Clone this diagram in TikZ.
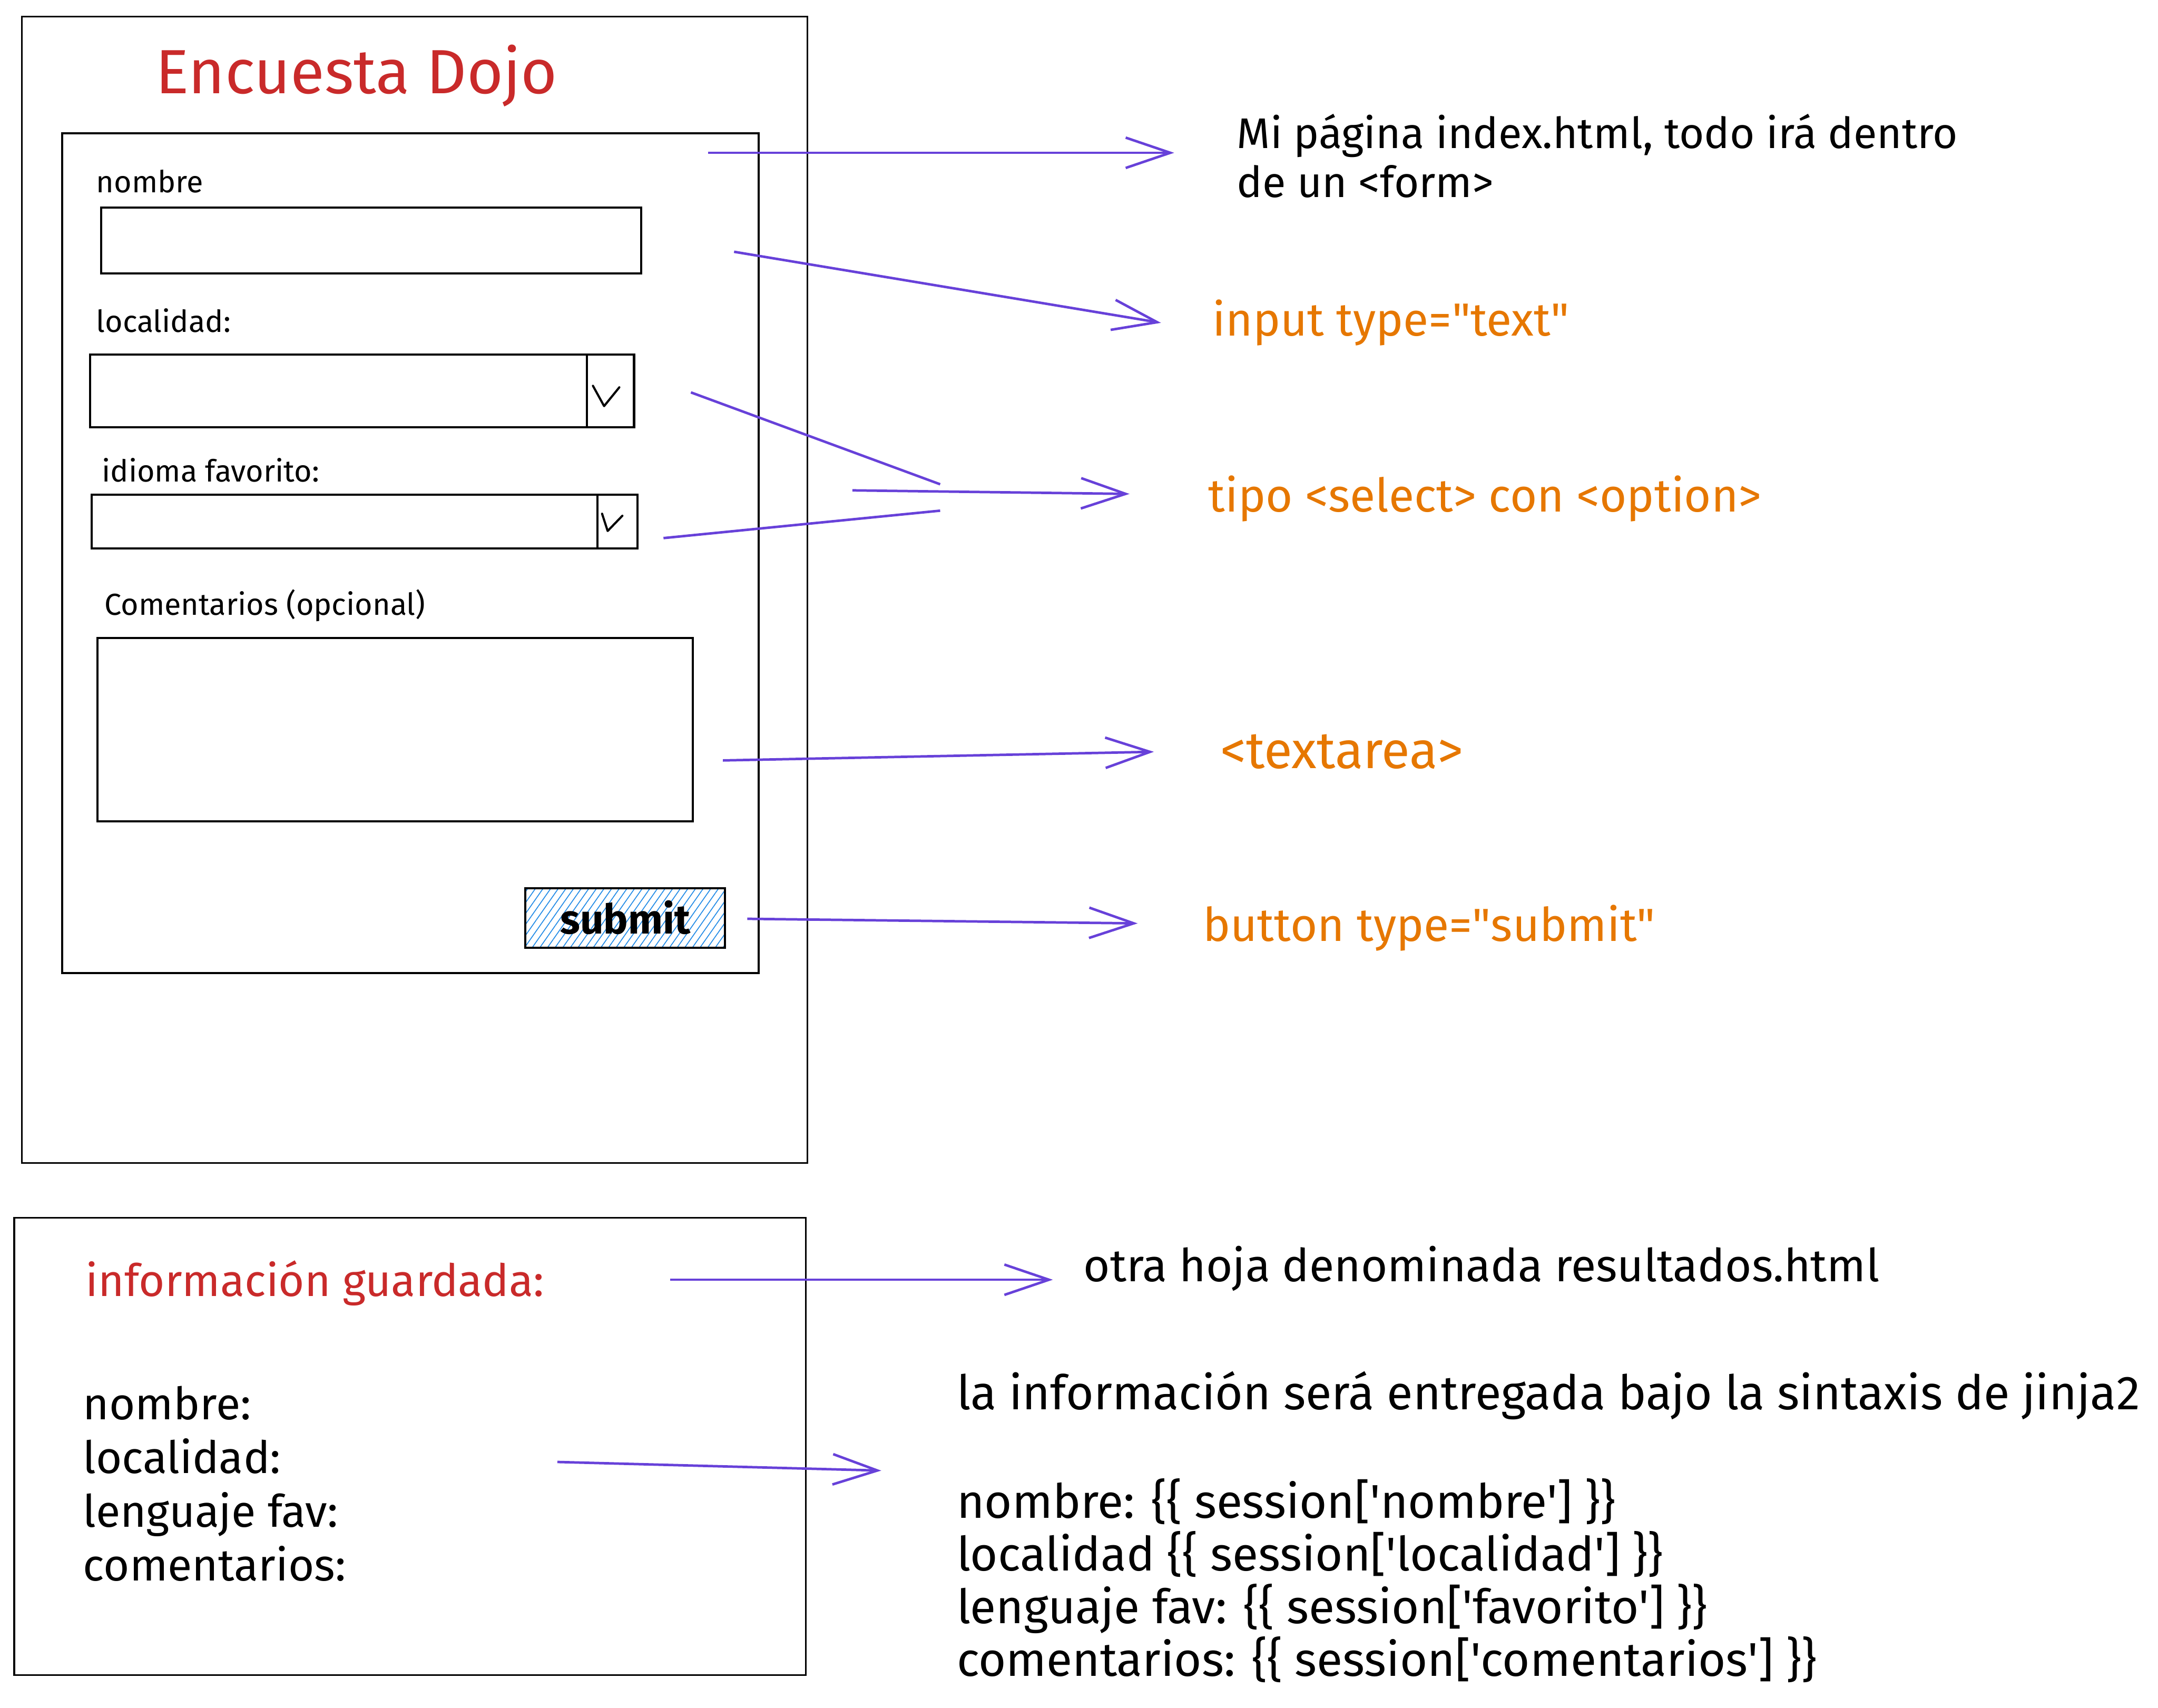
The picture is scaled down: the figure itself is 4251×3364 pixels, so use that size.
\documentclass[tikz,border=0pt]{standalone}
\usepackage{fontspec}
\setmainfont{Fira Sans}
\usetikzlibrary{arrows.meta,patterns.meta,positioning}

\definecolor{tituloRojo}{HTML}{C92A2A}
\definecolor{notaNaranja}{HTML}{E67700}
\definecolor{flechaMorada}{HTML}{6741D9}
\definecolor{rayaAzul}{HTML}{228BE6}

\newcommand{\comilla}{\textquotesingle}
\newcommand{\dobles}{\textquotedbl}

\tikzset{
  caja/.style={draw=black, line width=1.2pt},
  hoja/.style={draw=black, line width=0.9pt},
  etiqueta/.style={anchor=base west, inner sep=0pt, font=\fontsize{17}{20}\selectfont},
  texto/.style={anchor=base west, inner sep=0pt, font=\fontsize{26}{31}\selectfont},
  nota/.style={texto, text=notaNaranja},
  flecha/.style={draw=flechaMorada, line width=1.4pt, -{Straight Barb[length=25pt,width=17pt]}},
  guia/.style={draw=flechaMorada, line width=1.4pt},
}

\begin{document}
\begin{tikzpicture}[x=0.01cm, y=-0.01cm]
  \useasboundingbox (0,0) rectangle (4251,3364);

  % --- hoja index.html
  \draw[hoja] (43,33) rectangle (1590,2291);
  \node[anchor=base west, inner sep=0pt, text=tituloRojo,
        font=\fontsize{35}{42}\selectfont] (titulo) at (306,184) {Encuesta Dojo};

  % --- formulario
  \draw[caja] (122,263) rectangle (1494,1917);

  \node[etiqueta] (lblNombre) at (189,379) {nombre};
  \draw[caja] (199,409) rectangle (1263,539);

  \node[etiqueta] (lblLocalidad) at (189,654) {localidad:};
  \draw[caja] (177,698) rectangle (1249,842);
  \draw[caja] (1156,698) -- (1156,842);
  \draw[caja, line cap=round, line join=round] (1168,760) -- (1190,800) -- (1220,763);

  \node[etiqueta] (lblIdioma) at (200,949) {idioma favorito:};
  \draw[caja] (181,975) rectangle (1256,1080);
  \draw[caja] (1177,975) -- (1177,1080);
  \draw[caja, line cap=round, line join=round] (1186,1012) -- (1197,1046) -- (1226,1016);

  \node[etiqueta] (lblComentarios) at (205,1212) {Comentarios (opcional)};
  \draw[caja] (192,1257) rectangle (1365,1618);

  % --- boton con rayado azul
  \draw[caja, pattern={Lines[angle=55,distance=3.5pt,line width=0.5pt]},
        pattern color=rayaAzul] (1035,1750) rectangle (1428,1867);
  \node[anchor=base, inner sep=0pt, font=\fontsize{23}{27}\selectfont\bfseries]
    (btnSubmit) at (1232,1840) {submit};

  % --- anotaciones de la hoja
  \node[texto, font=\fontsize{24}{29}\selectfont] (notaIdx) at (2436,292)
    {Mi página index.html, todo irá dentro};
  \node[texto, font=\fontsize{24}{29}\selectfont] (notaIdxB) at (2436,389) {de un <form>};
  \node[nota] (notaInput) at (2388,662) {input type=\dobles text\dobles};
  \node[nota] (notaSelect) at (2380,1008) {tipo <select> con <option>};
  \node[nota, font=\fontsize{29}{34}\selectfont] (notaArea) at (2403,1514) {<textarea>};
  \node[nota] (notaBoton) at (2369,1854) {button type=\dobles submit\dobles};

  % --- flechas
  \coordinate (sIdx) at (1395,301);    \coordinate (eIdx) at (2313,301);
  \coordinate (sInput) at (1446,496);  \coordinate (eInput) at (2287,636);
  \coordinate (sSel1) at (1361,773);   \coordinate (jSel1) at (1852,954);
  \coordinate (sSel2) at (1307,1060);  \coordinate (jSel2) at (1852,1006);
  \coordinate (sSel) at (1679,966);    \coordinate (eSel) at (2225,973);
  \coordinate (sArea) at (1424,1498);  \coordinate (eArea) at (2273,1481);
  \coordinate (sBoton) at (1472,1810); \coordinate (eBoton) at (2241,1819);

  \draw[flecha] (sIdx) -- (eIdx);
  \draw[flecha] (sInput) -- (eInput);
  \draw[guia] (sSel1) -- (jSel1);
  \draw[guia] (sSel2) -- (jSel2);
  \draw[flecha] (sSel) -- (eSel);
  \draw[flecha] (sArea) -- (eArea);
  \draw[flecha] (sBoton) -- (eBoton);

  % --- hoja resultados.html
  \draw[hoja] (28,2399) rectangle (1587,3300);
  \node[texto, text=tituloRojo, font=\fontsize{25}{30}\selectfont] (guardada) at (168,2554)
    {información guardada:};
  \foreach \campo [count=\k from 0] in {nombre:,localidad:,lenguaje fav:,comentarios:}
    \node[texto, font=\fontsize{25}{30}\selectfont] (campo\k) at (163,2796+106*\k) {\campo};

  \node[texto, font=\fontsize{25.5}{30}\selectfont] (otraHoja) at (2134,2525)
    {otra hoja denominada resultados.html};
  \node[texto, font=\fontsize{26.7}{32}\selectfont] (jinja) at (1884,2777)
    {la información será entregada bajo la sintaxis de jinja2};
  \foreach \linea [count=\k from 0] in {
      {nombre: \{\{ session[\comilla nombre\comilla] \}\}},
      {localidad \{\{ session[\comilla localidad\comilla] \}\}},
      {lenguaje fav: \{\{ session[\comilla favorito\comilla] \}\}},
      {comentarios: \{\{ session[\comilla comentarios\comilla] \}\}}}
    \node[texto, font=\fontsize{26.5}{32}\selectfont] (sesion\k) at (1884,2990+104*\k) {\linea};

  \coordinate (sHoja) at (1320,2521);  \coordinate (eHoja) at (2074,2521);
  \coordinate (sCampos) at (1098,2880); \coordinate (eCampos) at (1736,2897);
  \draw[flecha] (sHoja) -- (eHoja);
  \draw[flecha] (sCampos) -- (eCampos);
\end{tikzpicture}
\end{document}
